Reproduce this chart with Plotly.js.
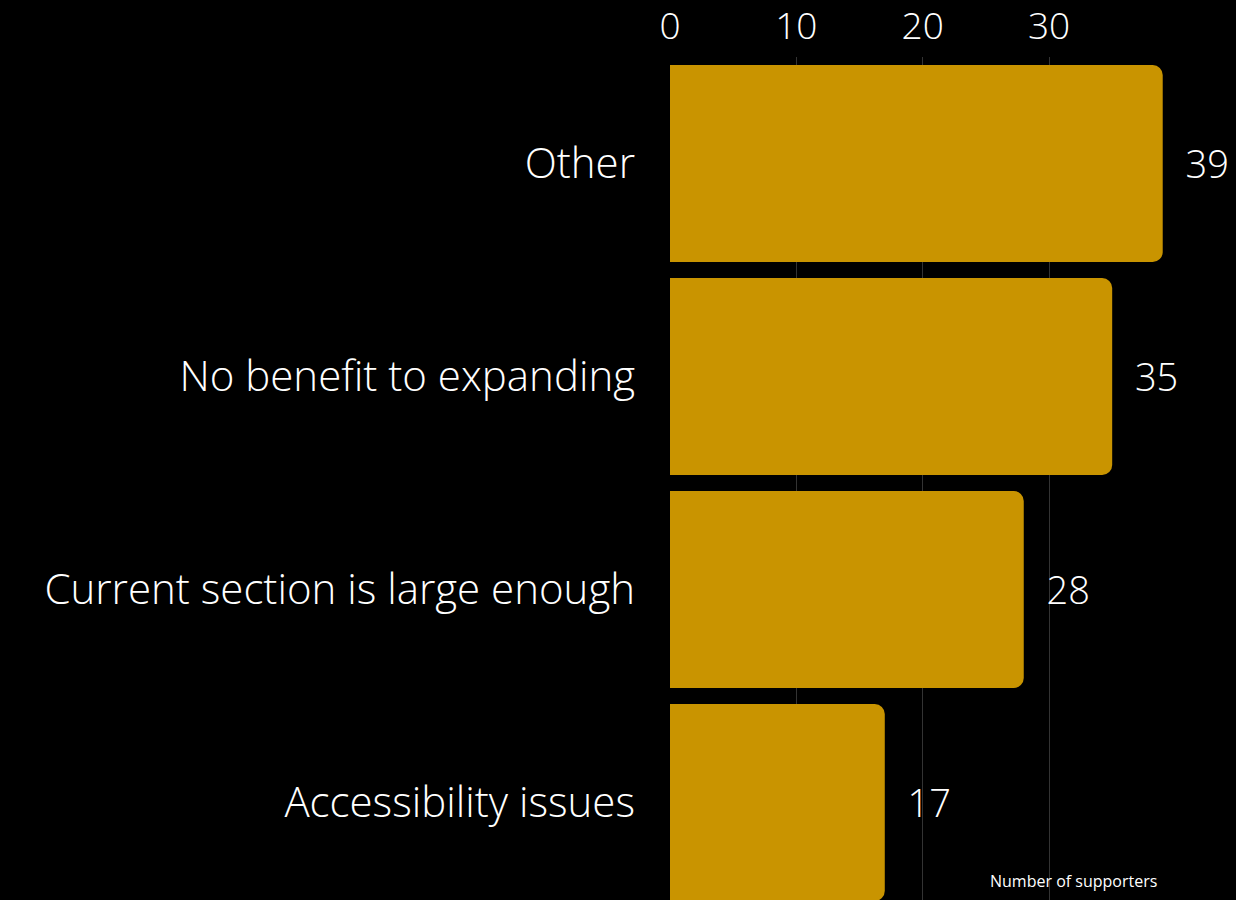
<!DOCTYPE html>
<html><head><meta charset="utf-8">
<script src="https://cdn.plot.ly/plotly-3.0.1.min.js"></script>
<style>html,body{margin:0;padding:0;background:#000;}#chart{width:1236px;height:900px;}</style>
</head><body><div id="chart"></div>
<script>
const categories = ["Other", "No benefit to expanding", "Current section is large enough", "Accessibility issues"];
const supporters = [39, 35, 28, 17];
const tickValues = [0, 10, 20, 30];
const tickLabels = ["0", "10", "20", "30"];
const axisNote = "Number of supporters";

const FONT = "'Open Sans', Lato, sans-serif";

Plotly.newPlot("chart", [{
  type: "bar",
  orientation: "h",
  y: categories,
  x: supporters,
  text: supporters.map(v => "\u00a0\u00a0" + v),
  textposition: "outside",
  textfont: {family: FONT, size: 38, color: "#ffffff", weight: 300},
  constraintext: "none",
  cliponaxis: false,
  marker: {color: "#C99400"},
  hoverinfo: "none"
}], {
  width: 1236, height: 900,
  paper_bgcolor: "#000", plot_bgcolor: "#000",
  margin: {l: 670, r: 0, t: 57, b: 0},
  bargap: 0.075,
  barcornerradius: 10,
  showlegend: false,
  xaxis: {
    side: "top", range: [0, 44.8],
    tickvals: tickValues, ticktext: tickLabels,
    tickfont: {family: FONT, size: 37, color: "#ffffff", weight: 300},
    showgrid: true, gridcolor: "#333333", gridwidth: 1,
    zeroline: false, showline: false, ticks: "", ticklabelstandoff: 10
  },
  yaxis: {
    type: "category", categoryorder: "array", categoryarray: categories,
    range: [3.458, -0.5],
    tickfont: {family: FONT, size: 42, color: "#ffffff", weight: 300},
    showgrid: false, zeroline: false, showline: false, ticks: "",
    ticklabelstandoff: 34
  },
  annotations: [{
    text: axisNote, xref: "x", yref: "paper",
    x: 31.95, y: 1 - (881 - 57) / 843, yanchor: "middle", xanchor: "center",
    showarrow: false,
    font: {family: FONT, size: 16, color: "#ffffff", weight: 400}
  }],
  font: {family: FONT, color: "#ffffff"}
}, {displayModeBar: false, staticPlot: true});
</script></body></html>
